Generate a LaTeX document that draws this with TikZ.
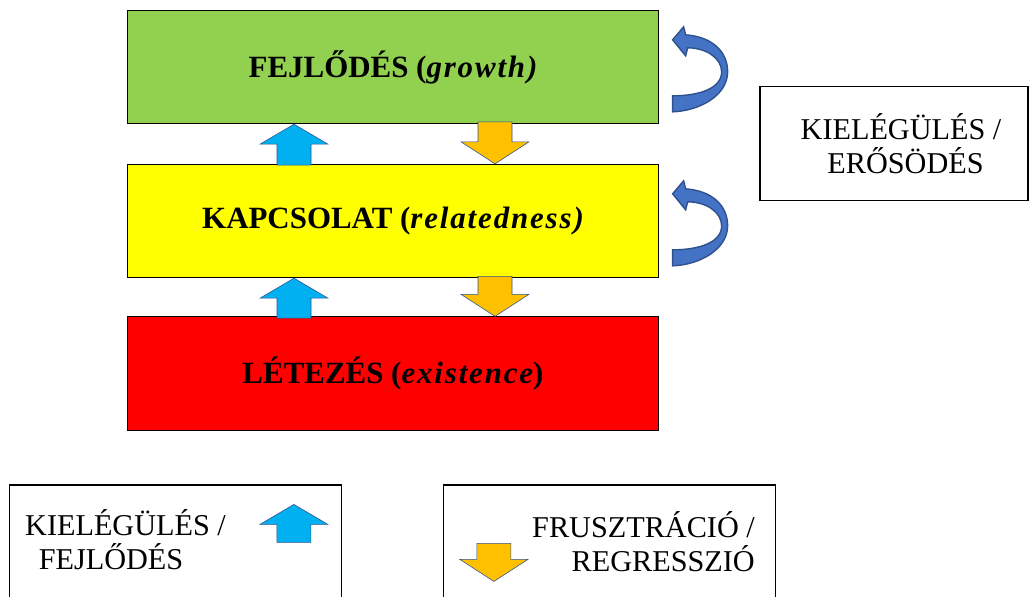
\documentclass[tikz,border=0pt]{standalone}
\usepackage{fontspec}
\setmainfont{Liberation Serif}
\usetikzlibrary{calc,positioning}
\definecolor{growthgreen}{HTML}{92D050}
\definecolor{relyellow}{HTML}{FFFF00}
\definecolor{existred}{HTML}{FF0000}
\definecolor{upblue}{HTML}{00B0F0}
\definecolor{downorange}{HTML}{FFC000}
\definecolor{bendblue}{HTML}{4472C4}
\definecolor{bendedge}{HTML}{2F528F}
\newcommand{\wideit}[1]{{\itshape\addfontfeatures{LetterSpace=6}#1}}

\tikzset{
  pics/uparr/.style={code={
    \filldraw[fill=upblue, draw=bendedge, line width=0.4pt]
      (0,0) -- (34,20) -- (17,20) -- (17,#1) -- (-17,#1) -- (-17,20) -- (-34,20) -- cycle;}},
  pics/downarr/.style={code={
    \filldraw[fill=downorange, draw=bendedge, line width=0.4pt]
      (0,0) -- (-34,-22) -- (-17,-22) -- (-17,-#1) -- (17,-#1) -- (17,-22) -- (34,-22) -- cycle;}},
  pics/bendarr/.style={code={
    \filldraw[fill=bendblue, draw=bendedge, line width=1pt]
      (14,30) -- (25,17) -- (27,25) .. controls (54,27) and (69,42) .. (69,62)
      .. controls (69,85) and (42,101) .. (14,102) -- (14,86)
      .. controls (42,86) and (63,78) .. (63,62)
      .. controls (63,48) and (47,38) .. (29,38) -- (27,46) -- cycle;}}
}

\begin{document}
\begin{tikzpicture}[x=0.025cm, y=-0.025cm,
  level/.style={draw=black, line width=0.8pt, minimum width=13.25cm, minimum height=2.83cm,
    font=\fontsize{22}{26}\selectfont\bfseries},
  legbox/.style={draw=black, line width=0.8pt, minimum width=8.3cm, minimum height=3.25cm},
  legtext/.style={font=\fontsize{21.5}{24.5}\selectfont, inner sep=0pt}]
  \useasboundingbox (0,0) rectangle (1031,597);
  \clip (0,0) rectangle (1031,597);
  % Levels
  \node[level, fill=growthgreen] (growth)  at (393,67)    {FEJLŐDÉS (\wideit{growth)}};
  \node[level, fill=relyellow]   (related) at (393,221)   {KAPCSOLAT (\wideit{relatedness)}};
  \node[level, fill=existred]    (exist)   at (393,373.5) {LÉTEZÉS (\wideit{existence})};
  % Arrows between levels
  \pic at ($(growth.south)+(-99,0)$)  {uparr=41};
  \pic at ($(related.north)+(102,0)$) {downarr=42};
  \pic at ($(related.south)+(-99,0)$) {uparr=40};
  \pic at ($(exist.north)+(102,0)$)   {downarr=40};
  % Loops on the right
  \pic at (growth.north east)  {bendarr};
  \pic at (related.north east) {bendarr};
  \node[draw=black, line width=0.8pt, minimum width=6.7cm, minimum height=2.83cm] (satbox) at (894,143.5) {};
  \node[legtext, align=center] (satlbl) at ($(satbox.center)+(7,0)$) {KIELÉGÜLÉS /\\\hspace*{0.3em}ERŐSÖDÉS};
  % Legend
  \node[legbox] (legup)   at (175.5,550) {};
  \node[legbox] (legdown) at (609.5,550) {};
  \node[legtext, align=left, anchor=west] (legupl) at ($(legup.north west)+(16,55)$)
    {KIELÉGÜLÉS /\\\hspace*{0.45em}FEJLŐDÉS};
  \pic at ($(legup.north west)+(285,20)$) {uparr=38};
  \node[legtext, align=right, anchor=east] (legdownl) at ($(legdown.north east)+(-21,57)$)
    {FRUSZTRÁCIÓ /\\REGRESSZIÓ};
  \pic at ($(legdown.north west)+(51,97)$) {downarr=38};
\end{tikzpicture}
\end{document}
